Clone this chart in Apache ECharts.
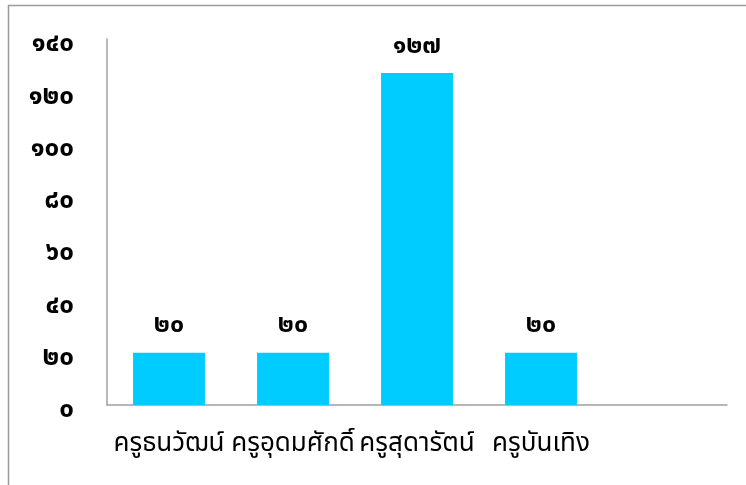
<!DOCTYPE html>
<html>
<head>
<meta charset="utf-8">
<script src="https://cdn.jsdelivr.net/npm/echarts@6/dist/echarts.min.js"></script>
<style>
  html, body { margin: 0; padding: 0; background: #fff; }
  #chart { width: 746px; height: 485px; }
</style>
</head>
<body>
<div id="chart"></div>
<script>
// Teachers and their counts
const categories = ['ครูธนวัฒน์', 'ครูอุดมศักดิ์', 'ครูสุดารัตน์', 'ครูบันเทิง', ''];
const values = [20, 20, 127, 20, null];
const yTicks = [0, 20, 40, 60, 80, 100, 120, 140];

const thaiDigits = '๐๑๒๓๔๕๖๗๘๙';
function toThai(n) {
  return String(n).replace(/[0-9]/g, d => thaiDigits[+d]);
}

const FONT = 'Tahoma, "Noto Sans Thai", sans-serif';

const chart = echarts.init(document.getElementById('chart'), null, { renderer: 'canvas' });
chart.setOption({
  animation: false,
  backgroundColor: '#fff',
  graphic: [{
    type: 'rect',
    shape: { x: 8.5, y: 5.5, width: 760, height: 520 },
    style: { fill: 'none', stroke: '#9a9a9a', lineWidth: 1.5 },
    silent: true
  }],
  grid: { left: 107, right: 19, top: 39, bottom: 80, containLabel: false },
  xAxis: {
    type: 'category',
    data: categories,
    axisLine: { lineStyle: { color: '#a0a0a0', width: 1.5 } },
    axisTick: { show: false },
    axisLabel: {
      interval: 0,
      margin: 28,
      color: '#000',
      fontSize: 26,
      fontFamily: FONT
    }
  },
  yAxis: {
    type: 'value',
    min: yTicks[0],
    max: yTicks[yTicks.length - 1],
    interval: 20,
    splitLine: { show: false },
    axisLine: { show: true, lineStyle: { color: '#a0a0a0', width: 1.5 } },
    axisTick: { show: false },
    axisLabel: {
      margin: 33,
      formatter: v => '{n|' + toThai(v) + '}',
      rich: {
        n: {
          color: '#000',
          fontSize: 26,
          fontWeight: 'bold',
          fontFamily: FONT,
          padding: [14, 0, 0, 0]
        }
      }
    }
  },
  series: [{
    type: 'bar',
    data: values,
    barCategoryGap: '42%',
    itemStyle: { color: '#00CCFF' },
    label: {
      show: true,
      position: 'top',
      distance: 13,
      color: '#000',
      fontSize: 25,
      fontWeight: 'bold',
      fontFamily: FONT,
      formatter: p => toThai(p.value)
    }
  }]
});
</script>
</body>
</html>
